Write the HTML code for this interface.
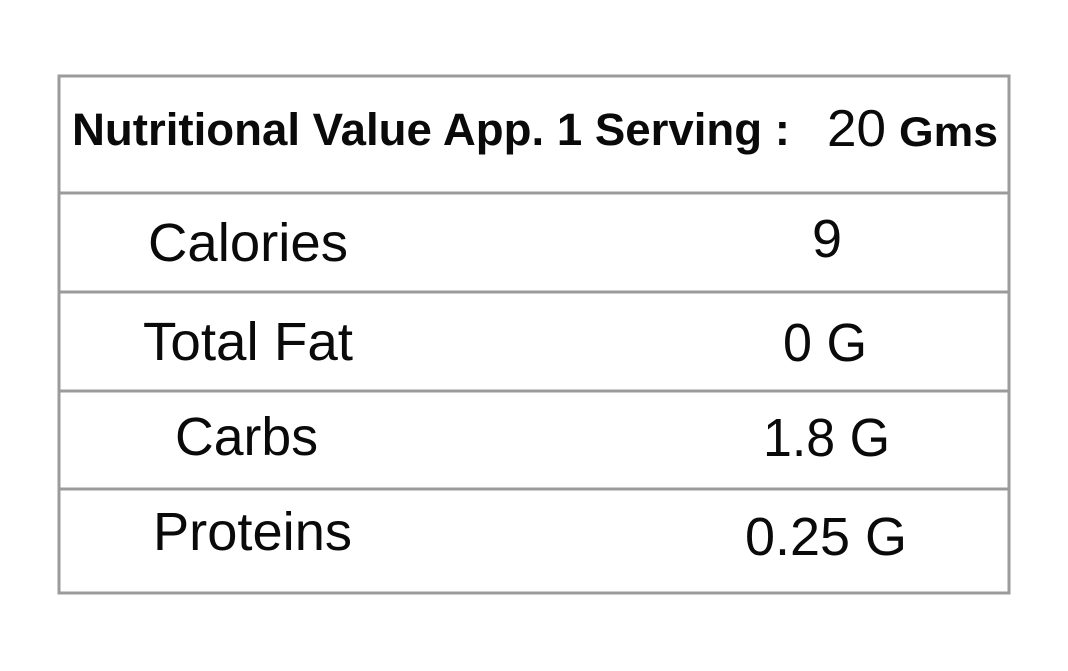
<!DOCTYPE html>
<html>
<head>
<meta charset="utf-8">
<style>
  html,body{margin:0;padding:0;background:#fff;}
  body{width:1068px;height:671px;overflow:hidden;}
  svg{display:block;}
  text{font-family:"Liberation Sans",Arial,sans-serif;fill:#0a0a0a;}
</style>
</head>
<body>
<svg width="1068" height="671" viewBox="0 0 1068 671" xmlns="http://www.w3.org/2000/svg">
  <rect x="0" y="0" width="1068" height="671" fill="#fff"/>
  <!-- table borders -->
  <g stroke="#9b9b9b" stroke-width="3" fill="none">
    <rect x="59" y="76" width="950" height="517"/>
    <line x1="59" y1="193" x2="1009" y2="193"/>
    <line x1="59" y1="292" x2="1009" y2="292"/>
    <line x1="59" y1="391" x2="1009" y2="391"/>
    <line x1="59" y1="489" x2="1009" y2="489"/>
  </g>

  <!-- header -->
  <text x="72" y="145" font-size="45" font-weight="bold" textLength="718" lengthAdjust="spacingAndGlyphs">Nutritional Value App. 1 Serving :</text>
  <text x="827" y="146" font-size="52" textLength="59" lengthAdjust="spacingAndGlyphs">20</text>
  <text x="899" y="146" font-size="42" font-weight="bold" textLength="99" lengthAdjust="spacingAndGlyphs">Gms</text>

  <!-- rows -->
  <text x="148" y="261" font-size="54" textLength="200" lengthAdjust="spacingAndGlyphs">Calories</text>
  <text x="827" y="257" font-size="54" text-anchor="middle">9</text>

  <text x="143" y="360" font-size="54" textLength="210" lengthAdjust="spacingAndGlyphs">Total Fat</text>
  <text x="783" y="361" font-size="54" textLength="84" lengthAdjust="spacingAndGlyphs">0 G</text>

  <text x="175" y="455" font-size="54" textLength="143" lengthAdjust="spacingAndGlyphs">Carbs</text>
  <text x="763" y="456" font-size="54" textLength="127" lengthAdjust="spacingAndGlyphs">1.8 G</text>

  <text x="153" y="550" font-size="54" textLength="199" lengthAdjust="spacingAndGlyphs">Proteins</text>
  <text x="745" y="555" font-size="54" textLength="162" lengthAdjust="spacingAndGlyphs">0.25 G</text>
</svg>
</body>
</html>
